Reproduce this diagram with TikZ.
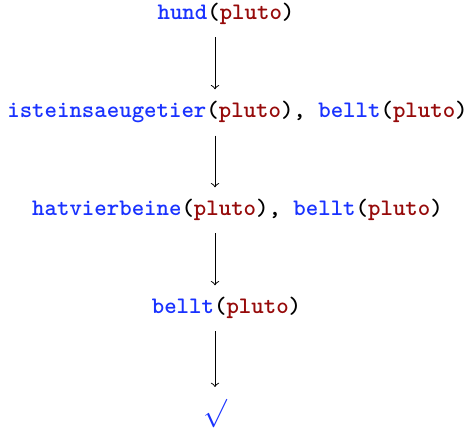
\documentclass[tikz,border=0pt]{standalone}
\usepackage{xcolor}
\definecolor{praed}{RGB}{25,50,255}
\definecolor{konst}{RGB}{150,10,10}
\newcommand{\pr}[1]{\textcolor{praed}{#1}}
\newcommand{\ko}[1]{\textcolor{konst}{#1}}
\begin{document}
\begin{tikzpicture}[>=to,x=0.422pt,y=0.422pt,
		ziel/.style={anchor=base,font=\ttfamily\bfseries,inner sep=5pt}]
			\useasboundingbox (0,0) rectangle (476,429);
			% Zielklauseln der Ableitung
			\node[ziel] (z1) at (226,409) {\pr{hund}(\ko{pluto})};
			\node[ziel] (z2) at (237.5,311) {\pr{isteinsaeugetier}(\ko{pluto}), \pr{bellt}(\ko{pluto})};
			\node[ziel] (z3) at (237.5,213) {\pr{hatvierbeine}(\ko{pluto}), \pr{bellt}(\ko{pluto})};
			\node[ziel] (z4) at (226.5,115) {\pr{bellt}(\ko{pluto})};
			\node[anchor=north,inner sep=5pt,text=praed] (ok) at (215,42) {\large$\surd$};
			\draw[->] (z1.south -| ok) -- (z2.north -| ok);
			\draw[->] (z2.south -| ok) -- (z3.north -| ok);
			\draw[->] (z3.south -| ok) -- (z4.north -| ok);
			\draw[->] (z4.south -| ok) -- (ok.north);
		\end{tikzpicture}
\end{document}
